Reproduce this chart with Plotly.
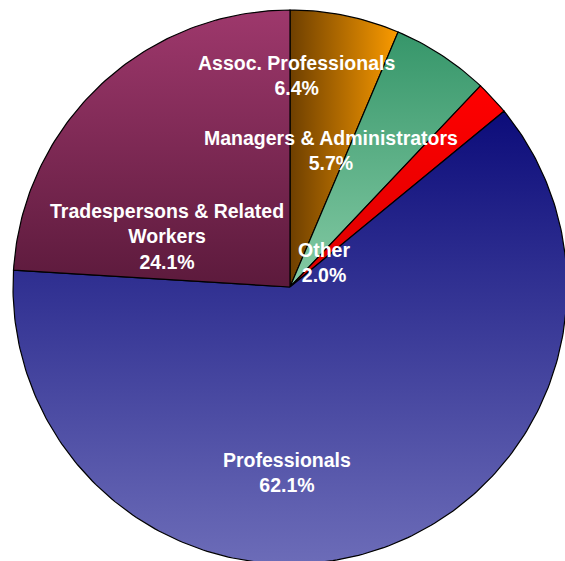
import numpy as np
import plotly.graph_objects as go

# ---- data ----
categories = ["Assoc. Professionals", "Managers & Administrators", "Other",
              "Professionals", "Tradespersons & Related Workers"]
values = [6.4, 5.7, 2.0, 62.1, 24.1]
display_labels = ["Assoc. Professionals", "Managers & Administrators", "Other",
                  "Professionals", "Tradespersons & Related<br>Workers"]

# ---- styling (gradient colours per slice: [low/left, high/right]) ----
gradients = [
    ("horizontal", "#6e3f00", "#fb9b00"),
    ("vertical", "#84caa4", "#36966a"),
    ("vertical", "#dc0000", "#ff0000"),
    ("vertical", "#6c6cb8", "#0c0c7a"),
    ("vertical", "#5c1a3c", "#9e386c"),
]
# label positions in axis units (radius = 1, centre = 0,0), same order as categories
label_pos = [(0.025, 0.765), (0.148, 0.491), (0.123, 0.090),
             (-0.011, -0.671), (-0.444, 0.181)]

W, H = 565, 561
CX, CY, R = 290, 287, 277  # figure-pixel centre / radius

fig = go.Figure()
total = sum(values)
start = 0.0
for cat, v, (gtype, c0, c1) in zip(categories, values, gradients):
    a0 = start / total * 2 * np.pi
    a1 = (start + v) / total * 2 * np.pi
    n = max(int(400 * v / total), 4)
    t = np.linspace(a0, a1, n)
    xs = np.concatenate([[0], np.sin(t), [0]])
    ys = np.concatenate([[0], np.cos(t), [0]])
    fig.add_trace(go.Scatter(
        x=xs, y=ys, mode="lines", fill="toself",
        fillgradient=dict(type=gtype, colorscale=[[0, c0], [1, c1]]),
        line=dict(color="black", width=1.2),
        name=cat, hoverinfo="skip", showlegend=False,
    ))
    start += v

for lab, v, (lx, ly) in zip(display_labels, values, label_pos):
    fig.add_annotation(
        x=lx, y=ly, xref="x", yref="y",
        text=f"{lab}<br>{v:.1f}%", showarrow=False,
        xanchor="center", yanchor="middle", align="center",
        font=dict(family="Liberation Sans, Arial, sans-serif", size=19.5,
                  color="white", weight="bold"),
    )

fig.update_xaxes(range=[-CX / R, (W - CX) / R], visible=False, fixedrange=True)
fig.update_yaxes(range=[-(H - CY) / R, CY / R], visible=False, fixedrange=True)
fig.update_layout(
    width=W, height=H, margin=dict(l=0, r=0, t=0, b=0),
    paper_bgcolor="white", plot_bgcolor="white", showlegend=False,
    hovermode=False,
)
fig.write_html(
    "out.html",
    config={"displayModeBar": False, "staticPlot": True},
    post_script="document.body.style.margin='0';document.body.style.overflow='hidden';",
)
